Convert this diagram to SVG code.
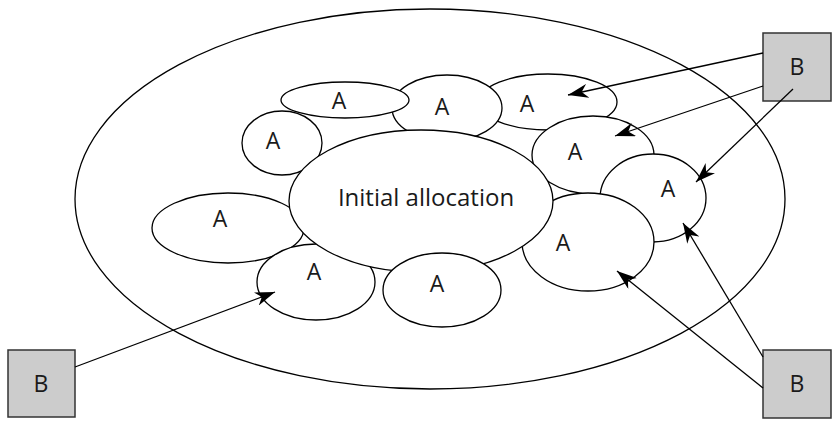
<svg xmlns="http://www.w3.org/2000/svg" width="836" height="426" viewBox="0 0 836 426">
<style>
.e{fill:#fff;stroke:#000;stroke-width:1.3}
.o{fill:none;stroke:#000;stroke-width:1.3}
.b{fill:#cccccc;stroke:#333;stroke-width:1.5}
.t{font-family:"Open Sans","Noto Sans",sans-serif;font-size:23px;fill:#1a1a1a;text-anchor:middle}
.c{stroke:#000;stroke-width:1.3;fill:none;marker-end:url(#ah)}
</style>
<defs>
<marker id="ah" markerUnits="userSpaceOnUse" markerWidth="21" markerHeight="14" refX="20" refY="7" orient="auto" viewBox="0 0 21 14">
<path d="M0,0 L20,7 L0,14 L6,7 z" fill="#000"/>
</marker>
</defs>
<g id="outer"><ellipse class="o" cx="430" cy="199" rx="355" ry="190"/></g>
<g id="a4"><ellipse class="e" cx="548" cy="102" rx="69" ry="28"/><text class="t" x="527" y="112">A</text></g>
<g id="a5"><ellipse class="e" cx="593" cy="155" rx="61" ry="39"/><text class="t" x="575" y="160">A</text></g>
<g id="a6"><ellipse class="e" cx="653" cy="198" rx="53" ry="44"/><text class="t" x="668" y="197">A</text></g>
<g id="a7"><ellipse class="e" cx="588" cy="242" rx="66" ry="49"/><text class="t" x="563" y="251">A</text></g>
<g id="a3"><ellipse class="e" cx="447" cy="108" rx="55" ry="33"/><text class="t" x="442" y="115">A</text></g>
<g id="a2"><ellipse class="e" cx="345" cy="100" rx="64" ry="18"/><text class="t" x="339" y="109">A</text></g>
<g id="a1"><ellipse class="e" cx="282" cy="143" rx="40" ry="32"/><text class="t" x="273" y="149">A</text></g>
<g id="a8"><ellipse class="e" cx="228" cy="228" rx="76" ry="35"/><text class="t" x="220" y="227">A</text></g>
<g id="a9"><ellipse class="e" cx="316" cy="282" rx="59" ry="38"/><text class="t" x="314" y="280">A</text></g>
<g id="initial"><ellipse class="e" cx="421" cy="201" rx="132" ry="71"/><text class="t" x="426" y="206" style="font-size:24px">Initial allocation</text></g>
<g id="a10"><ellipse class="e" cx="442" cy="290" rx="59" ry="37"/><text class="t" x="437" y="292">A</text></g>
<g id="b1"><rect class="b" x="763" y="33" width="68" height="68"/><text class="t" x="797" y="75">B</text></g>
<g id="b2"><rect class="b" x="8" y="350" width="67" height="67"/><text class="t" x="41" y="392">B</text></g>
<g id="b3"><rect class="b" x="763" y="350" width="68" height="68"/><text class="t" x="797" y="392">B</text></g>
<g id="connectors">
<line class="c" x1="763" y1="53" x2="568" y2="95"/>
<line class="c" x1="763" y1="86" x2="615" y2="136"/>
<line class="c" x1="793" y1="89" x2="696" y2="182"/>
<line class="c" x1="75" y1="367" x2="275" y2="292"/>
<line class="c" x1="763" y1="388" x2="617" y2="271"/>
<line class="c" x1="763" y1="357" x2="683" y2="223"/>
</g>
</svg>
